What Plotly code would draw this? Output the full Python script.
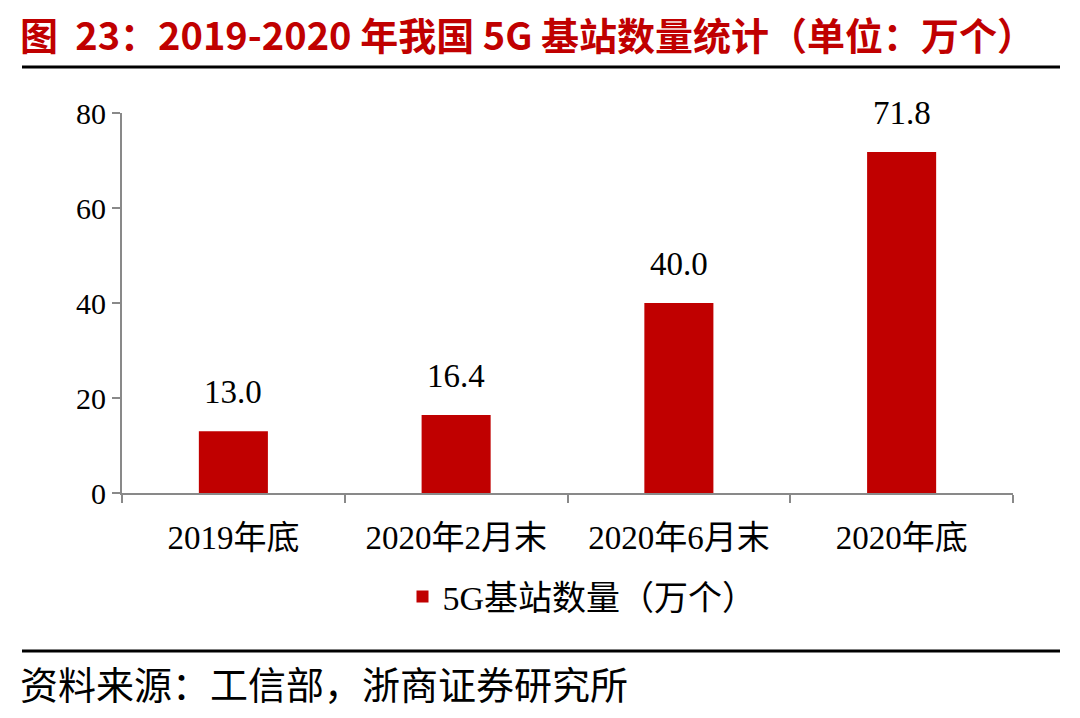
import plotly.graph_objects as go

categories = ["2019年底", "2020年2月末", "2020年6月末", "2020年底"]
values = [13.0, 16.4, 40.0, 71.8]
series_name = "5G基站数量（万个）"
title_text = "图  23：2019-2020 年我国 5G 基站数量统计（单位：万个）"
source_text = "资料来源：工信部，浙商证券研究所"
y_ticks = [0, 20, 40, 60, 80]

RED = "#C00000"
GRAY = "#898989"
FONT = "Liberation Serif, Times New Roman, Noto Sans CJK SC, serif"

fig = go.Figure()
fig.add_trace(go.Bar(
    x=categories, y=values, name=series_name,
    marker=dict(color=RED, line=dict(width=0)),
))

L, R, T, B = 122, 67, 113, 225
W, H = 1080, 718
pw, ph = W - L - R, H - T - B

def px_x(x):
    return (x - L) / pw

def px_y(y):
    return (H - B - y) / ph

annotations = [
    dict(x=c, y=v, text=f"{v:.1f}", xref="x", yref="y", yanchor="bottom", yshift=19,
         showarrow=False, font=dict(size=33, color="#000000", family=FONT))
    for c, v in zip(categories, values)
]
annotations += [
    dict(text=f"<b>{title_text}</b>", xref="paper", yref="paper", x=px_x(18), y=px_y(34),
         xanchor="left", yanchor="middle", showarrow=False,
         font=dict(size=38, color=RED, family="Noto Sans CJK SC, Liberation Sans, sans-serif")),
    dict(text=source_text, xref="paper", yref="paper", x=px_x(18), y=px_y(686),
         xanchor="left", yanchor="middle", showarrow=False,
         font=dict(size=38, color="#000000", family=FONT)),
]

fig.update_layout(
    width=W, height=H,
    margin=dict(l=L, r=R, t=T, b=B, autoexpand=False),
    paper_bgcolor="white", plot_bgcolor="white",
    bargap=0.69,
    showlegend=True,
    legend=dict(orientation="h", x=px_x(582), xanchor="center", y=px_y(597), yanchor="middle",
                font=dict(size=34, family=FONT, color="#000000"), itemwidth=30),
    xaxis=dict(showline=True, linecolor=GRAY, linewidth=2, ticks="outside", tickson="boundaries",
               ticklen=8, tickwidth=2, tickcolor=GRAY, ticklabelstandoff=14,
               tickfont=dict(size=33, family=FONT, color="#000000"), showgrid=False),
    yaxis=dict(range=[0, 80], tickvals=y_ticks, showline=True, linecolor=GRAY, linewidth=2,
               ticks="outside", ticklen=8, tickwidth=2, tickcolor=GRAY, showgrid=False, zeroline=False,
               tickfont=dict(size=30, family=FONT, color="#000000")),
    annotations=annotations,
    shapes=[
        dict(type="line", xref="paper", yref="paper", x0=px_x(22), x1=px_x(1060), y0=px_y(67), y1=px_y(67),
             line=dict(color="#000000", width=3)),
        dict(type="line", xref="paper", yref="paper", x0=px_x(22), x1=px_x(1060), y0=px_y(651), y1=px_y(651),
             line=dict(color="#000000", width=3)),
    ],
)

fig.write_html("out.html", config={"displayModeBar": False},
               post_script="document.body.style.margin='0';")
